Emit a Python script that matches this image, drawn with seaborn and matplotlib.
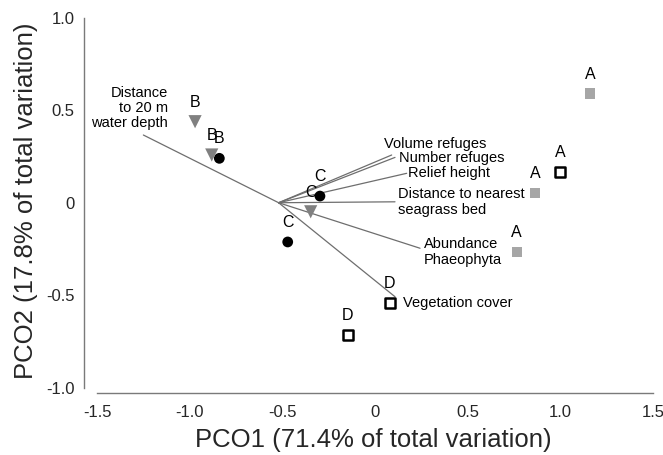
import seaborn as sns
import matplotlib.pyplot as plt
import pandas as pd

# sample scores on PCO1 / PCO2
site_labels = ["A", "A", "A", "A", "D", "D", "B", "C", "C", "B", "B", "C"]
pco1 = [1.16, 0.865, 0.765, 1.0, 0.081, -0.147, -0.840, -0.297, -0.471, -0.971, -0.881, -0.347]
pco2 = [0.59, 0.054, -0.265, 0.168, -0.54, -0.715, 0.24, 0.036, -0.212, 0.438, 0.258, -0.049]
groups = ["grey_sq", "grey_sq", "grey_sq", "open_sq", "open_sq", "open_sq",
          "circle", "circle", "circle", "triangle", "triangle", "triangle"]

# vector overlay (origin + end points)
vec_origin = (-0.52, 0.0)
vec_names = ["Distance\nto 20 m\nwater depth", "Volume refuges", "Number refuges",
             "Relief height", "Distance to nearest\nseagrass bed",
             "Abundance\nPhaeophyta", "Vegetation cover"]
vec_x = [-1.25, 0.09, 0.108, 0.171, 0.108, 0.243, 0.108]
vec_y = [0.366, 0.258, 0.245, 0.159, 0.005, -0.246, -0.508]

df = pd.DataFrame({"x": pco1, "y": pco2, "site": site_labels, "group": groups})

sns.set_style("white")
plt.rcParams["font.family"] = ["Liberation Sans", "DejaVu Sans"]

fig = plt.figure(figsize=(6.63, 4.55), dpi=100)
ax = fig.add_axes([0.1268, 0.1356, 0.872, 0.8458])

# vectors
for vx, vy in zip(vec_x, vec_y):
    ax.plot([vec_origin[0], vx], [vec_origin[1], vy], color="#6e6e6e", lw=0.9, zorder=1)

# vector label placement (text anchor, alignment)
label_pos = [(-1.117, 0.512, "right"), (0.049, 0.317, "left"), (0.131, 0.240, "left"),
             (0.178, 0.159, "left"), (0.124, 0.004, "left"), (0.264, -0.266, "left"),
             (0.149, -0.54, "left")]
for name, (lx, ly, ha) in zip(vec_names, label_pos):
    ax.text(lx, ly, name, ha=ha, va="center", fontsize=10.5, linespacing=1.12,
            multialignment=ha, color="black")

styles = {
    "grey_sq": dict(marker="s", color="#a6a6a6", edgecolor="none", s=55),
    "open_sq": dict(marker="s", color="white", edgecolor="black", s=42, linewidth=1.8),
    "circle": dict(marker="o", color="black", edgecolor="none", s=60),
    "triangle": dict(marker="v", color="#808080", edgecolor="none", s=90),
}
for g, st in styles.items():
    sub = df[df["group"] == g]
    sns.scatterplot(data=sub, x="x", y="y", ax=ax, zorder=3, legend=False, **st)

for _, r in df.iterrows():
    ax.annotate(r["site"], (r["x"], r["y"]), xytext=(0, 14), textcoords="offset points",
                ha="center", va="center", fontsize=11.5, color="black")

ax.set_xlim(-1.57, 1.55)
ax.set_ylim(-1.03, 1.05)
ax.set_xticks([-1.5, -1.0, -0.5, 0, 0.5, 1.0, 1.5])
ax.set_xticklabels(["-1.5", "-1.0", "-0.5", "0", "0.5", "1.0", "1.5"])
ax.set_yticks([-1.0, -0.5, 0, 0.5, 1.0])
ax.set_yticklabels(["-1.0", "-0.5", "0", "0.5", "1.0"])

for side in ["top", "right"]:
    ax.spines[side].set_visible(False)
for side in ["left", "bottom"]:
    ax.spines[side].set_color("#7a7a7a")
    ax.spines[side].set_linewidth(1.0)
ax.spines["left"].set_bounds(-1.0, 1.0)
ax.spines["bottom"].set_bounds(-1.5, 1.5)

ax.tick_params(axis="y", direction="inout", length=12, width=1, color="#7a7a7a",
               labelsize=12, pad=1)
ax.tick_params(axis="x", direction="inout", length=9, width=1, color="#7a7a7a",
               labelsize=12, pad=4)

ax.set_xlabel("PCO1 (71.4% of total variation)", fontsize=18.5, labelpad=6)
ax.set_ylabel("PCO2 (17.8% of total variation)", fontsize=18.5, labelpad=6)

fig.savefig("out.png", dpi=100)
